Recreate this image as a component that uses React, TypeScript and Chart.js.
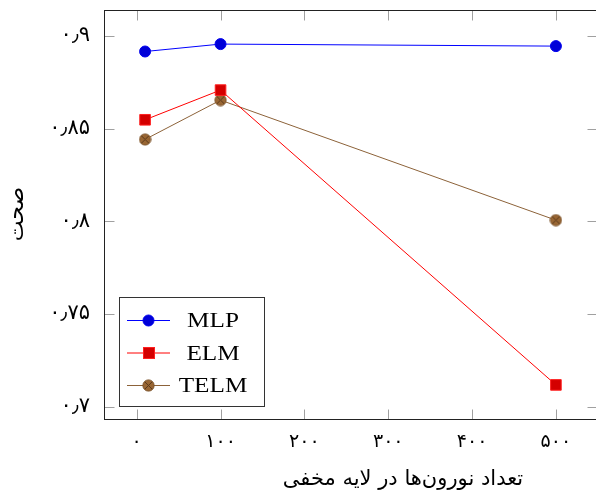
import React, { useEffect, useRef } from "react";
import { Chart, registerables } from "chart.js";

Chart.register(...registerables);

const neurons = [10, 100, 500];
const mlpAcc = [0.8915, 0.8955, 0.8944];
const elmAcc = [0.8547, 0.8707, 0.7118];
const telmAcc = [0.8441, 0.8653, 0.8006];
const seriesNames = ["MLP", "ELM", "TELM"];
const xTickValues = [0, 100, 200, 300, 400, 500];
const xTickLabels = ["۰", "۱۰۰", "۲۰۰", "۳۰۰", "۴۰۰", "۵۰۰"];
const yTickValues = [0.7, 0.75, 0.8, 0.85, 0.9];
const yTickLabels = ["۰٫۷", "۰٫۷۵", "۰٫۸", "۰٫۸۵", "۰٫۹"];
const xTitle = "تعداد نورون‌ها در لایه مخفی";
const yTitle = "صحت";

const PERSIAN_FONT = '"DejaVu Sans", sans-serif';
const LATIN_FONT = '"Liberation Serif", "DejaVu Serif", serif';

function makeOtimes(): HTMLCanvasElement {
  const c = document.createElement("canvas");
  c.width = 13;
  c.height = 13;
  const g = c.getContext("2d")!;
  g.beginPath();
  g.arc(6.5, 6.5, 5.6, 0, Math.PI * 2);
  g.fillStyle = "#996633";
  g.fill();
  g.strokeStyle = "#7a5128";
  g.lineWidth = 1;
  g.stroke();
  g.beginPath();
  const d = 3.6;
  g.moveTo(6.5 - d, 6.5 - d);
  g.lineTo(6.5 + d, 6.5 + d);
  g.moveTo(6.5 + d, 6.5 - d);
  g.lineTo(6.5 - d, 6.5 + d);
  g.strokeStyle = "#5a3a1c";
  g.lineWidth = 1;
  g.stroke();
  return c;
}

export default function App() {
  const ref = useRef<HTMLCanvasElement>(null);

  useEffect(() => {
    const canvas = ref.current!;
    const otimes = makeOtimes();

    const allY = [...mlpAcc, ...elmAcc, ...telmAcc];
    const xr = Math.max(...neurons) - Math.min(...neurons);
    const xMin = Math.min(...neurons) - 0.1 * xr;
    const xMax = Math.max(...neurons) + 0.1 * xr;
    const yr = Math.max(...allY) - Math.min(...allY);
    const yMin = Math.min(...allY) - 0.1 * yr;
    const yMax = Math.max(...allY) + 0.1 * yr;

    const mk = (vals: number[]) => neurons.map((x, i) => ({ x, y: vals[i] }));

    const datasets: any[] = [
      {
        label: seriesNames[0],
        data: mk(mlpAcc),
        borderColor: "#0000ff",
        backgroundColor: "#0000d8",
        pointBorderColor: "#0000ee",
        borderWidth: 1,
        pointRadius: 5.5,
        pointStyle: "circle",
        pointBorderWidth: 1,
      },
      {
        label: seriesNames[1],
        data: mk(elmAcc),
        borderColor: "#ff0000",
        backgroundColor: "#d40000",
        pointBorderColor: "#ff2020",
        borderWidth: 1,
        pointRadius: 7.5,
        pointStyle: "rect",
        pointBorderWidth: 1,
      },
      {
        label: seriesNames[2],
        data: mk(telmAcc),
        borderColor: "#8c6239",
        backgroundColor: "#996633",
        borderWidth: 1,
        pointRadius: 6,
        pointStyle: otimes,
      },
    ];

    const framePlugin = {
      id: "frame",
      afterDraw(chart: any) {
        const ctx = chart.ctx as CanvasRenderingContext2D;
        const a = chart.chartArea;
        const xs = chart.scales.x;
        const ys = chart.scales.y;
        const L = Math.round(a.left) + 0.5;
        const R = Math.round(a.right) + 0.5;
        const T = Math.round(a.top) + 0.5;
        const B = Math.round(a.bottom) + 0.5;
        ctx.save();
        // ticks inward
        ctx.strokeStyle = "#a0a0a0";
        ctx.lineWidth = 1;
        ctx.beginPath();
        const tl = 10;
        xTickValues.forEach((v) => {
          const px = Math.round(xs.getPixelForValue(v)) + 0.5;
          ctx.moveTo(px, B);
          ctx.lineTo(px, B - tl);
          ctx.moveTo(px, T);
          ctx.lineTo(px, T + tl);
        });
        yTickValues.forEach((v) => {
          const py = Math.round(ys.getPixelForValue(v)) + 0.5;
          ctx.moveTo(L, py);
          ctx.lineTo(L + tl, py);
          ctx.moveTo(R, py);
          ctx.lineTo(R - tl, py);
        });
        ctx.stroke();
        // box
        ctx.strokeStyle = "#222";
        ctx.strokeRect(L, T, R - L, B - T);

        // legend
        const lx = 119.5, ly = 297.5, lw = 145, lh = 109;
        ctx.fillStyle = "#fff";
        ctx.fillRect(lx, ly, lw, lh);
        ctx.strokeStyle = "#333";
        ctx.strokeRect(lx, ly, lw, lh);
        const rows = [320, 352.5, 385];
        chart.data.datasets.forEach((ds: any, i: number) => {
          const y = rows[i];
          ctx.beginPath();
          ctx.strokeStyle = ds.borderColor;
          ctx.lineWidth = 1;
          ctx.moveTo(127, y + 0.5);
          ctx.lineTo(170, y + 0.5);
          ctx.stroke();
          if (ds.pointStyle instanceof HTMLCanvasElement) {
            ctx.drawImage(ds.pointStyle, 148.5 - 6.5, y - 6);
          } else if (ds.pointStyle === "rect") {
            ctx.fillStyle = ds.backgroundColor;
            ctx.fillRect(143.5, y - 5, 11, 11);
            ctx.strokeStyle = ds.pointBorderColor;
            ctx.strokeRect(143.5, y - 5, 11, 11);
          } else {
            ctx.beginPath();
            ctx.arc(148.5, y + 0.5, 5.5, 0, Math.PI * 2);
            ctx.fillStyle = ds.backgroundColor;
            ctx.fill();
            ctx.strokeStyle = ds.pointBorderColor;
            ctx.stroke();
          }
          ctx.save();
          ctx.translate(213, y + 7);
          ctx.scale(1.2, 1);
          ctx.fillStyle = "#000";
          ctx.font = `21px ${LATIN_FONT}`;
          ctx.textAlign = "center";
          ctx.textBaseline = "alphabetic";
          ctx.fillText(ds.label, 0, 0);
          ctx.restore();
        });

        // axis titles
        ctx.fillStyle = "#000";
        ctx.font = `21px ${PERSIAN_FONT}`;
        ctx.textAlign = "center";
        ctx.textBaseline = "alphabetic";
        ctx.fillText(xTitle, 403, 485);
        ctx.save();
        ctx.translate(17, 214);
        ctx.rotate(-Math.PI / 2);
        ctx.textBaseline = "middle";
        ctx.font = `22px ${PERSIAN_FONT}`;
        ctx.fillText(yTitle, 0, 0);
        ctx.restore();
        ctx.restore();
      },
    };

    const chart = new Chart(canvas, {
      type: "line",
      data: { datasets },
      options: {
        animation: false,
        responsive: false,
        maintainAspectRatio: false,
        layout: { autoPadding: false, padding: { left: 0, top: 10, right: 3, bottom: 0 } },
        plugins: { legend: { display: false }, tooltip: { enabled: false } },
        scales: {
          x: {
            type: "linear",
            min: xMin,
            max: xMax,
            grid: { display: false },
            border: { display: false },
            ticks: {
              stepSize: 100,
              includeBounds: false,
              autoSkip: false,
              maxRotation: 0,
              padding: 4,
              color: "#000",
              font: { family: PERSIAN_FONT, size: 19 },
              callback: (v: any) => {
                const i = xTickValues.findIndex((t) => Math.abs(t - v) < 1e-6);
                return i >= 0 ? xTickLabels[i] : "";
              },
            },
            afterFit: (s: any) => {
              s.height = 73;
              s.paddingLeft = 0;
              s.paddingRight = 0;
            },
          },
          y: {
            type: "linear",
            min: yMin,
            max: yMax,
            grid: { display: false },
            border: { display: false },
            ticks: {
              stepSize: 0.05,
              includeBounds: false,
              autoSkip: false,
              padding: 6,
              color: "#000",
              font: { family: PERSIAN_FONT, size: 21 },
              callback: (v: any) => {
                const i = yTickValues.findIndex((t) => Math.abs(t - v) < 1e-6);
                return i >= 0 ? yTickLabels[i] : "";
              },
            },
            afterFit: (s: any) => {
              s.width = 104;
              s.paddingTop = 0;
              s.paddingBottom = 0;
            },
          },
        },
      },
      plugins: [framePlugin],
    } as any);

    return () => chart.destroy();
  }, []);

  return (
    <div
      style={{
        position: "fixed",
        left: 0,
        top: 0,
        width: 596,
        height: 492,
        overflow: "hidden",
        background: "#fff",
      }}
    >
      <canvas ref={ref} width={600} height={492} style={{ display: "block", width: 600, height: 492 }} />
    </div>
  );
}
